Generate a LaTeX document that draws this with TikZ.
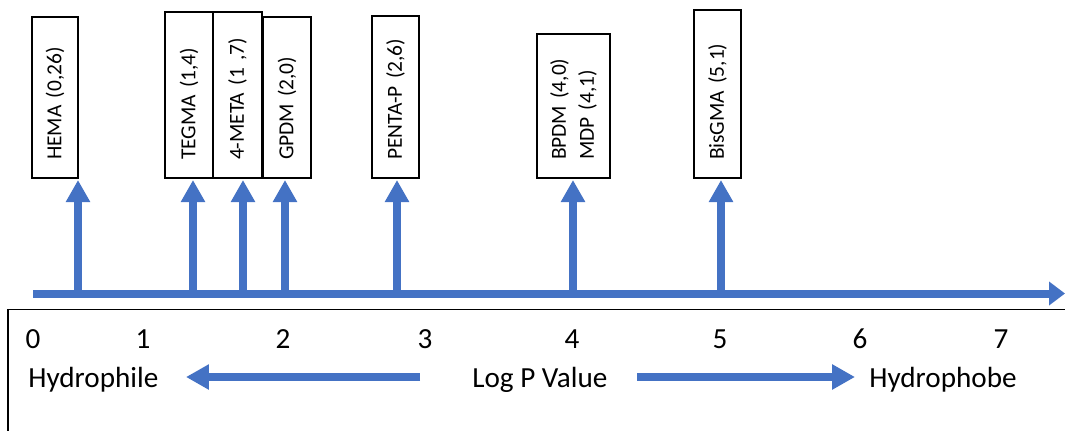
\documentclass[tikz,border=0pt]{standalone}
\usepackage{fontspec}
\setmainfont{Carlito}
\usetikzlibrary{arrows.meta}
\definecolor{axisblue}{RGB}{68,114,196}
\begin{document}
\begin{tikzpicture}[x=0.02cm,y=-0.02cm,>={Triangle[length=0.44cm,width=0.46cm]},
  font=\fontsize{16.6}{19}\selectfont,
  shaft/.style={color=axisblue,line width=0.16cm,->},
  molbox/.style={draw,line width=0.7pt,rotate=90,inner xsep=0.36cm,inner ysep=1pt,align=left,font=\fontsize{12.2}{16}\selectfont},
  lbl/.style={inner sep=0pt,anchor=base}]
\def\ya{293.5} \def\yt{180} % axis, tips
\useasboundingbox (0,0) rectangle (1065,430);
\clip (0,0) rectangle (1065,430);
\draw[line width=0.7pt] (8,440) -- (8,309.5) -- (1075,309.5);
% axis
\coordinate (a0) at (33,\ya);
\coordinate (a1) at (1065,\ya);
\draw[shaft,-{Triangle[length=0.32cm,width=0.46cm]}] (a0) -- (a1);
\foreach \n/\x in {hema/78,tegma/193,meta/243,gpdm/285,penta/397,bpdm/573,bis/721}{
  \coordinate (b-\n) at (\x,\ya);
  \coordinate (t-\n) at (\x,\yt);
  \draw[shaft] (b-\n) -- (t-\n);}
% monomers
\node[molbox,text width=2.50cm,minimum height=0.92cm] (hema) at (55,97.5) {HEMA (0,26)};
\node[molbox,text width=2.60cm,minimum height=0.96cm] (tegma) at (189,95) {TEGMA (1,4)};
\node[molbox,text width=2.60cm,minimum height=0.98cm] (meta) at (237.5,95) {4-META (1 ,7)};
\node[molbox,text width=2.50cm,minimum height=0.96cm] (gpdm) at (287,97.5) {GPDM (2,0)};
\node[molbox,text width=2.52cm,minimum height=0.94cm] (penta) at (395.5,97) {PENTA-P (2,6)};
\node[molbox,text width=2.16cm,minimum height=1.46cm] (bpdm) at (573.5,106) {BPDM (4,0)\\MDP (4,1)};
\node[molbox,text width=2.64cm,minimum height=0.94cm] (bis) at (717.5,94) {BisGMA (5,1)};
% scale
\foreach \v/\x in {0/33,1/143,2/283,3/425,4/572,5/720,6/860,7/1001}
  \node[lbl] (n\v) at (\x,348) {\v};
\node[lbl,anchor=base west] (phil) at (28,387) {Hydrophile};
\node[lbl,anchor=base west] (logp) at (472,387) {Log P Value};
\node[lbl,anchor=base west] (phob) at (869,387) {Hydrophobe};
\coordinate (l0) at (420,377); \coordinate (l1) at (186,377);
\coordinate (r0) at (637,377); \coordinate (r1) at (855,377);
\draw[shaft,-{Triangle[length=0.46cm,width=0.48cm]}] (l0) -- (l1);
\draw[shaft,-{Triangle[length=0.46cm,width=0.48cm]}] (r0) -- (r1);
\end{tikzpicture}
\end{document}
